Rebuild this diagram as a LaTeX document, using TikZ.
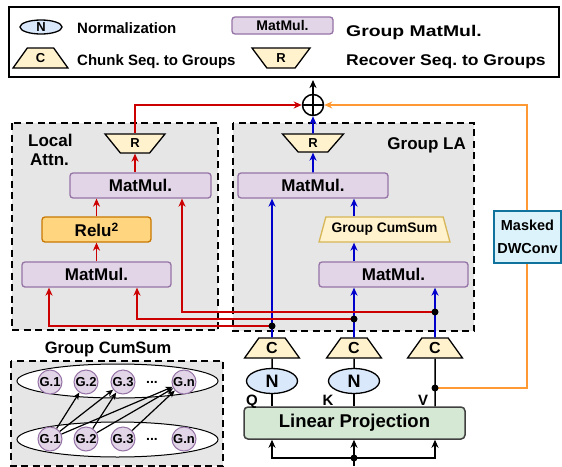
\documentclass[tikz,border=0pt]{standalone}
\usepackage{fontspec}
\setmainfont{Liberation Sans}
\usetikzlibrary{shapes.geometric,arrows.meta}
\frenchspacing
\definecolor{mmfill}{HTML}{E1D5E7}
\definecolor{mmdraw}{HTML}{9673A6}
\definecolor{yfill}{HTML}{FFF2CC}
\definecolor{ydraw}{HTML}{D6B656}
\definecolor{ofill}{HTML}{FFD580}
\definecolor{odraw}{HTML}{C87800}
\definecolor{nfill}{HTML}{DAE8FC}
\definecolor{gfill}{HTML}{D5E8D4}
\definecolor{gdraw}{HTML}{404040}
\definecolor{cfill}{HTML}{DDF3FB}
\definecolor{cdraw}{HTML}{10739E}
\definecolor{panel}{HTML}{E6E6E6}
\definecolor{redl}{HTML}{CC0000}
\definecolor{bluel}{HTML}{0000CC}
\definecolor{orl}{HTML}{FF9933}
\newcommand\fsz[1]{\fontsize{#1}{#1}\selectfont\bfseries}
\begin{document}
\begin{tikzpicture}[x=1pt,y=-1pt,
  mm/.style={draw=mmdraw,fill=mmfill,rounded corners=3pt,line width=1.3pt,inner sep=0pt,minimum height=25pt,font=\fsz{17}},
  trapc/.style={trapezium,trapezium stretches=true,draw=black,fill=yfill,line width=1.3pt,inner sep=0pt,trapezium left angle=61,trapezium right angle=61,minimum width=55pt,minimum height=20pt,font=\fsz{16}},
  trapr/.style={trapc,shape border rotate=180,minimum width=60pt,minimum height=19pt,font=\fsz{13}},
  nell/.style={ellipse,draw=black,fill=nfill,line width=1.3pt,inner sep=0pt,minimum width=51pt,minimum height=25pt,font=\fsz{18}},
  panelbox/.style={draw=black,fill=panel,line width=2.2pt,dash pattern=on 7pt off 4.5pt},
  gc/.style={circle,draw=mmdraw,fill=mmfill,line width=1pt,inner sep=0pt,minimum size=24pt,font=\fsz{13}},
  gell/.style={ellipse,draw=black,fill=white,line width=1pt,minimum width=201pt,minimum height=34pt},
  lab/.style={inner sep=0pt,anchor=base west},
  dot/.style={circle,fill=black,inner sep=0pt,minimum size=7pt},
  tip/.style={-{Stealth[length=8pt,width=7pt,inset=2.5pt]}},
  redarr/.style={draw=redl,line width=1.8pt,tip},
  bluearr/.style={draw=bluel,line width=1.8pt,tip},
  blkarr/.style={draw=black,line width=1.5pt,tip},
  garr/.style={draw=black,line width=1.2pt,-{Stealth[length=7pt,width=6pt,inset=2pt]}}
]
\useasboundingbox (0,0) rectangle (562,466);
% ---------- legend ----------
\node[draw=black,line width=1.5pt,fill=white,minimum width=550pt,minimum height=70pt,inner sep=0pt] (legend) at (284,42) {};
\node[nell,minimum width=42pt,minimum height=14pt,font=\fsz{13}] (legN) at (41,27) {N};
\node[lab,font=\fsz{15}] (legNt) at (77,33) {Normalization};
\node[mm,minimum width=101pt,minimum height=17pt,font=\fsz{14}] (legM) at (282.5,25.5) {MatMul.};
\node[lab,font=\fsz{15.5}] (legMt) at (346,36) {\scalebox{1.25}[1]{Group MatMul.}};
\node[trapc,font=\fsz{13}] (legC) at (40.5,58) {C};
\node[lab,font=\fsz{15}] (legCt) at (77,65) {Chunk Seq. to Groups};
\node[trapr,minimum width=58pt,minimum height=20pt] (legR) at (281,58) {R};
\node[lab,font=\fsz{15.5}] (legRt) at (346,65) {\scalebox{1.13}[1]{Recover Seq. to Groups}};
% ---------- panels ----------
\draw[panelbox] (12,123) rectangle (218,330);
\draw[panelbox] (233,123) rectangle (474,331);
\node[lab,font=\fsz{17}] (tLocal) at (28,146) {Local};
\node[lab,font=\fsz{17}] (tAttn) at (30,165) {Attn.};
\node[inner sep=0pt,anchor=base east,font=\fsz{17}] (tLA) at (466,149) {Group LA};
% ---------- local attention ----------
\node[trapr] (lR) at (135,143.5) {R};
\node[mm,minimum width=141pt] (lmt) at (140.5,185.5) {MatMul.};
\node[mm,draw=odraw,fill=ofill,minimum width=109pt] (relu) at (96.5,229.5) {Relu\raisebox{5pt}{\fontsize{12}{12}\selectfont 2}};
\node[mm,minimum width=149pt] (lmb) at (96.5,274.5) {MatMul.};
% ---------- group LA ----------
\node[trapr,minimum width=61pt,minimum height=18pt] (gR) at (313,143) {R};
\node[mm,minimum width=150pt] (gmt) at (313,185.5) {MatMul.};
\node[trapezium,trapezium stretches=true,draw=ydraw,fill=yfill,line width=1.3pt,inner sep=0pt,trapezium left angle=64,trapezium right angle=64,minimum width=131pt,minimum height=25pt,font=\fsz{13.8}] (cs) at (384.5,229.5) {Group CumSum};
\node[mm,minimum width=149pt] (gmb) at (393.5,274.5) {MatMul.};
\node[circle,draw=black,line width=1.5pt,fill=white,minimum size=21pt,inner sep=0pt] (plus) at (313,105) {};
\draw[line width=1.5pt] (plus.north) -- (plus.south) (plus.west) -- (plus.east);
\coordinate (outp) at (313,80);
% ---------- inputs ----------
\coordinate (xq) at (272,0);
\coordinate (xk) at (354,0);
\coordinate (xv) at (435,0);
\coordinate (xa) at (49,0);
\coordinate (xb) at (137,0);
\coordinate (xc) at (182,0);
\coordinate (xo) at (527,0);
\node[trapc] (c1) at (272,348) {C};
\node[trapc] (c2) at (354,348) {C};
\node[trapc] (c3) at (435,348) {C};
\node[nell] (n1) at (272,381) {N};
\node[nell] (n2) at (354,381) {N};
\node[draw=gdraw,fill=gfill,rounded corners=4pt,line width=1.5pt,inner sep=0pt,minimum width=221pt,minimum height=32pt,font=\fsz{18.5}] (lp) at (354.5,423) {Linear Projection};
\node[inner sep=0pt,anchor=base,font=\fsz{15}] (tQ) at (252,405) {Q};
\node[inner sep=0pt,anchor=base,font=\fsz{15}] (tK) at (328,405) {K};
\node[inner sep=0pt,anchor=base,font=\fsz{15}] (tV) at (423,405) {V};
\coordinate (dq) at (272,326);
\coordinate (dk) at (354,319);
\coordinate (dv) at (435,312);
\coordinate (vd) at (435,388);
\coordinate (inb) at (354,466);
\coordinate (bj) at (354,458);
% black lines
\draw[line width=1.5pt] (c1.south) -- (n1.north);
\draw[line width=1.5pt] (n1.south) -- (lp.north -| xq);
\draw[line width=1.5pt] (c2.south) -- (n2.north);
\draw[line width=1.5pt] (n2.south) -- (lp.north -| xk);
\draw[line width=1.5pt] (c3.south) -- (lp.north -| xv);
\draw[line width=1.5pt] (inb) -- (bj);
\draw[blkarr] (bj) -| (lp.south -| xq);
\draw[blkarr] (bj) -| (lp.south -| xv);
\draw[blkarr] (bj) -- (lp.south -| xk);
\node[dot] (bjd) at (bj) {};
% blue lines
\draw[bluearr] (c1.north) -- (gmt.south -| xq);
\draw[bluearr] (c2.north) -- (gmb.south -| xk);
\draw[bluearr] (c3.north) -- (gmb.south -| xv);
\draw[bluearr] (gmb.north -| xk) -- (cs.south -| xk);
\draw[bluearr] (cs.north -| xk) -- (gmt.south -| xk);
\draw[bluearr] (gmt.north) -- (gR.south);
\draw[bluearr] (gR.north) -- (plus.south);
% red lines
\draw[redarr] (dv) -| (lmt.south -| xc);
\draw[redarr] (dk) -| (lmb.south -| xb);
\draw[redarr] (dq) -| (lmb.south -| xa);
\draw[redarr] (lmt.north -| lR.south) -- (lR.south);
\draw[redarr] (relu.north) -- (lmt.south -| relu.north);
\draw[redarr] (lmb.north) -- (relu.south);
\draw[redarr] (lR.north) |- (plus.west);
\node[dot] (dqd) at (dq) {};
\node[dot] (dkd) at (dk) {};
\node[dot] (dvd) at (dv) {};
% orange
\draw[draw=orl,line width=1.8pt,tip] (vd) -| (plus.east -| xo) -- (plus.east);
\node[dot] (vdd) at (vd) {};
\draw[blkarr] (plus.north) -- (outp);
\node[draw=cdraw,fill=cfill,line width=1.8pt,inner sep=0pt,minimum width=67pt,minimum height=52pt,align=center,font=\fontsize{14.5}{23}\selectfont\bfseries] (dw) at (527.5,237) {Masked\\DWConv};
% ---------- group cumsum panel ----------
\node[inner sep=0pt,anchor=base,font=\fsz{16.5}] (tGC) at (108,353) {Group CumSum};
\draw[panelbox] (11,361) rectangle (223,466);
\node[gell] (etop) at (117.5,381) {};
\node[gell,minimum height=35pt] (ebot) at (117.5,439.5) {};
\node[gc] (t1) at (50,382) {G.1};
\node[gc] (t2) at (86,382) {G.2};
\node[gc] (t3) at (123,382) {G.3};
\node[inner sep=0pt,font=\fsz{14}] (tdots) at (152,382) {...};
\node[gc] (tn) at (184,382) {G.n};
\node[gc] (b1) at (50,439) {G.1};
\node[gc] (b2) at (86,439) {G.2};
\node[gc] (b3) at (123,439) {G.3};
\node[inner sep=0pt,font=\fsz{14}] (bdots) at (152,439) {...};
\node[gc] (bn) at (184,439) {G.n};
\draw[garr] (b1) -- (t2);
\draw[garr] (b1) -- (t3);
\draw[garr] (b1) -- (tn);
\draw[garr] (b2) -- (t3);
\draw[garr] (b2) -- (tn);
\draw[garr] (b3) -- (tn);
\end{tikzpicture}
\end{document}
